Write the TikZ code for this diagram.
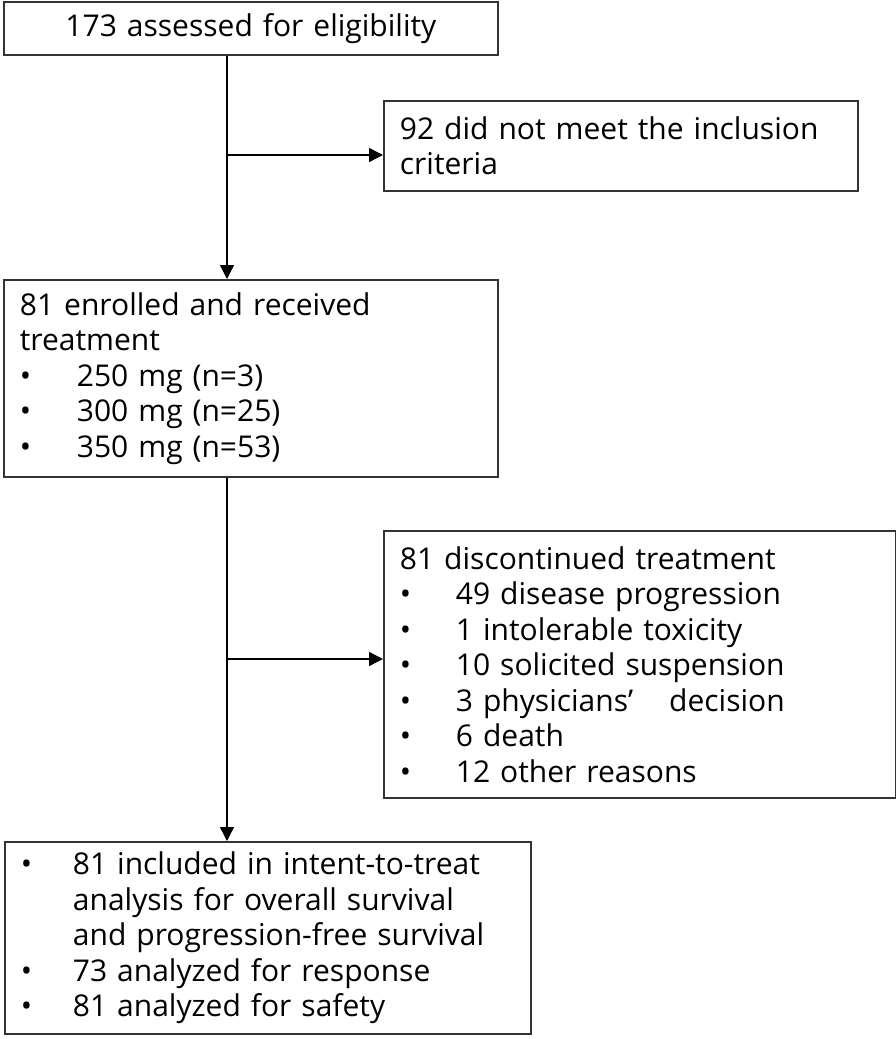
\documentclass[tikz,border=0pt]{standalone}
\usepackage{fontspec}
\setmainfont{Open Sans}
\usetikzlibrary{arrows.meta, positioning, calc}
\definecolor{boxLine}{RGB}{51, 51, 51}
\newcommand{\itm}[2]{\makebox[#1][l]{\textbullet}#2}

\begin{document}
\begin{tikzpicture}[
    x=1pt, y=-1pt,
    box/.style={
        rectangle,
        draw=boxLine,
        line width=1.8pt,
        anchor=north west,
        inner xsep=16pt,
        inner ysep=0pt,
        align=left,
        font=\fontsize{30}{35.5}\selectfont
    },
    arrow/.style={-{Triangle[length=14pt,width=14pt]}, line width=1.4pt, black}
]
    \useasboundingbox (0,0) rectangle (896,1039);

    % Boxes
    \node[box, align=center, text width=462pt, minimum width=494pt, minimum height=53pt] (assessed) at (3,1)
        {173 assessed for eligibility};
    \node[box, text width=442pt, minimum width=474pt, minimum height=90pt] (excluded) at (383,100)
        {92 did not meet the inclusion\\criteria};
    \node[box, text width=462pt, minimum width=494pt, minimum height=197pt] (enrolled) at (3,279)
        {81 enrolled and received\\treatment\\
         \itm{57pt}{250 mg (n=3)}\\
         \itm{57pt}{300 mg (n=25)}\\
         \itm{57pt}{350 mg (n=53)}};
    \node[box, text width=480pt, minimum width=512pt, minimum height=267pt] (discont) at (383,530)
        {81 discontinued treatment\\
         \itm{56pt}{49 disease progression}\\
         \itm{56pt}{1 intolerable toxicity}\\
         \itm{56pt}{10 solicited suspension}\\
         \itm{56pt}{3 physicians’\hspace{36pt}decision}\\
         \itm{56pt}{6 death}\\
         \itm{56pt}{12 other reasons}};
    \node[box, text width=494pt, minimum width=526pt, minimum height=192pt] (analyzed) at (4,841)
        {\itm{52pt}{81 included in intent-to-treat}\\
         \hspace*{52pt}analysis for overall survival\\
         \hspace*{52pt}and progression-free survival\\
         \itm{52pt}{73 analyzed for response}\\
         \itm{52pt}{81 analyzed for safety}};

    % Junctions on the trunk
    \coordinate (trunk) at (227,0);
    \coordinate (split1) at (227,155);
    \coordinate (split2) at (227,659);

    % Arrows
    \draw[arrow] (assessed.south -| trunk) -- (enrolled.north -| trunk);
    \draw[arrow] (split1) -- (split1 -| excluded.west);
    \draw[arrow] (enrolled.south -| trunk) -- (analyzed.north -| trunk);
    \draw[arrow] (split2) -- (split2 -| discont.west);

\end{tikzpicture}
\end{document}
